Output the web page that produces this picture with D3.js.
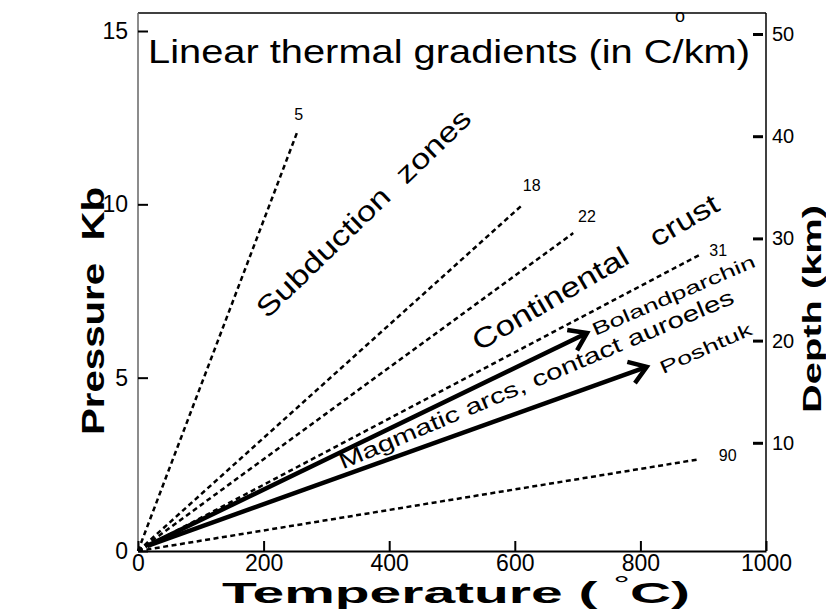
<!DOCTYPE html>
<html>
<head>
<meta charset="utf-8">
<script src="https://cdn.jsdelivr.net/npm/d3@7"></script>
<style>
  body { margin: 0; background: #fff; }
  svg text { font-family: "Liberation Sans", Arial, Helvetica, sans-serif; fill: #000; }
</style>
</head>
<body>
<div id="chart"></div>
<script>
// thermal gradients (degC/km) and where each dashed line stops
const gradients = [5, 18, 22, 31, 90];
const gradEndT = [253, 610, 693, 894, 895];
const gradEndP = [12.06, 9.95, 9.17, 8.54, 2.65];
// where the gradient numbers sit (T, P)
const gradLabelT = [256, 627, 715, 924, 939];
const gradLabelP = [12.58, 10.56, 9.66, 8.68, 2.77];

// P-T paths of the two intrusions
const arrowNames = ["Bolandparchin", "Poshtuk"];
const arrowStart = [15, 0.15];
const arrowEndT = [715, 810];
const arrowEndP = [6.29, 5.31];

// axis ticks
const tempTicks = [0, 200, 400, 600, 800, 1000];
const pressTicks = [0, 5, 10, 15];
const depthTicks = [10, 20, 30, 40, 50];

// field labels: text, T, P, angle
const fieldText = ["Subduction  zones", "Continental   crust", "Magmatic arcs, contact auroeles", "Bolandparchin", "Poshtuk"];
const fieldT = [206, 543, 326, 728, 836];
const fieldP = [6.68, 5.75, 2.35, 6.2, 5.1];
const fieldAngle = [-44, -30.4, -23, -23.4, -24];
const fieldSize = [28, 28, 22, 18, 18];
const fieldLen = [286, 281, 427, 176, 99];

let width = 826;
let height = 612;

let x = d3.scaleLinear().domain([0, 1000]).range([138, 766]);
let y = d3.scaleLinear().domain([0, 15]).range([551, 31]);
let depth = d3.scaleLinear().domain([0, 50]).range([545, 34]);

let svg = d3.select("#chart").append("svg")
  .attr("width", width)
  .attr("height", height);

// frame
svg.append("line").attr("x1", 138).attr("x2", 766).attr("y1", 13).attr("y2", 13)
  .attr("stroke", "#000").attr("stroke-width", 1.5);
svg.append("line").attr("x1", 766).attr("x2", 766).attr("y1", 13).attr("y2", 551)
  .attr("stroke", "#000").attr("stroke-width", 1.5);
svg.append("line").attr("x1", 138).attr("x2", 138).attr("y1", 13).attr("y2", 551)
  .attr("stroke", "#666").attr("stroke-width", 1.5);

// bottom axis, ticks pointing inward
let xAxis = svg.append("g")
  .attr("transform", "translate(0,551)")
  .call(d3.axisBottom(x).tickValues(tempTicks).tickFormat(d3.format("d"))
    .tickSize(-10).tickSizeOuter(0).tickPadding(4));
xAxis.select(".domain").attr("stroke-width", 2);
xAxis.selectAll(".tick line").attr("stroke-width", 2);
xAxis.selectAll("text").style("font-size", "23px");

// left axis
let yAxis = svg.append("g")
  .attr("transform", "translate(138,0)")
  .call(d3.axisLeft(y).tickValues(pressTicks).tickSize(-10).tickSizeOuter(0).tickPadding(10));
yAxis.select(".domain").remove();
yAxis.selectAll(".tick line").attr("stroke-width", 2);
yAxis.selectAll("text").style("font-size", "23px");

// right depth axis: short ticks detached from the frame
let dAxis = svg.append("g")
  .attr("transform", "translate(753,0)")
  .call(d3.axisRight(depth).tickValues(depthTicks).tickSize(10).tickSizeOuter(0).tickPadding(9));
dAxis.select(".domain").remove();
dAxis.selectAll(".tick line").attr("stroke-width", 3);
dAxis.selectAll("text").style("font-size", "20px");

// dashed gradients
svg.append("g").selectAll("line")
  .data(gradients)
  .enter().append("line")
  .attr("x1", x(0)).attr("y1", y(0))
  .attr("x2", (d, i) => x(gradEndT[i]))
  .attr("y2", (d, i) => y(gradEndP[i]))
  .attr("stroke", "#000")
  .attr("stroke-width", 2.5)
  .attr("stroke-dasharray", "5,3.5");

svg.append("g").selectAll("text")
  .data(gradients)
  .enter().append("text")
  .attr("x", (d, i) => x(gradLabelT[i]))
  .attr("y", (d, i) => y(gradLabelP[i]))
  .attr("text-anchor", "middle")
  .attr("dy", "0.35em")
  .style("font-size", "16px")
  .text(d => d);

// solid arrows with open heads
let arrows = svg.append("g");
arrowNames.forEach((name, i) => {
  let x0 = x(arrowStart[0]), y0 = y(arrowStart[1]);
  let x1 = x(arrowEndT[i]), y1 = y(arrowEndP[i]);
  let a = Math.atan2(y1 - y0, x1 - x0);
  let h = 20, spread = 0.6;
  arrows.append("line")
    .attr("x1", x0).attr("y1", y0).attr("x2", x1).attr("y2", y1)
    .attr("stroke", "#000").attr("stroke-width", 4.5);
  arrows.append("path")
    .attr("d", d3.line()([
      [x1 - h * Math.cos(a - spread), y1 - h * Math.sin(a - spread)],
      [x1, y1],
      [x1 - h * Math.cos(a + spread), y1 - h * Math.sin(a + spread)]
    ]))
    .attr("fill", "none")
    .attr("stroke", "#000")
    .attr("stroke-width", 4.5)
    .attr("stroke-linejoin", "miter");
});

// rotated field labels
svg.append("g").selectAll("text")
  .data(fieldText)
  .enter().append("text")
  .attr("transform", (d, i) => "translate(" + x(fieldT[i]) + "," + y(fieldP[i]) + ") rotate(" + fieldAngle[i] + ")")
  .attr("textLength", (d, i) => fieldLen[i])
  .attr("lengthAdjust", "spacingAndGlyphs")
  .style("font-size", (d, i) => fieldSize[i] + "px")
  .style("white-space", "pre")
  .text(d => d);

// title with the degree mark floating above the C
svg.append("text")
  .attr("x", 148).attr("y", 63)
  .attr("textLength", 602)
  .attr("lengthAdjust", "spacingAndGlyphs")
  .style("font-size", "34px")
  .text("Linear thermal gradients (in C/km)");
svg.append("text")
  .attr("x", 680).attr("y", 22)
  .attr("text-anchor", "middle")
  .style("font-size", "18px")
  .text("o");

// axis titles
let xt = svg.append("text")
  .attr("x", 222).attr("y", 603)
  .attr("textLength", 468)
  .attr("lengthAdjust", "spacingAndGlyphs")
  .style("font-size", "30px")
  .style("font-weight", "bold")
  .style("white-space", "pre");
xt.append("tspan").text("Temperature ( ");
xt.append("tspan").attr("dy", -11).style("font-size", "22px").style("font-weight", "normal").text("\u00b0");
xt.append("tspan").attr("dy", 11).text("C)");

svg.append("text")
  .attr("transform", "translate(104,435) rotate(-90)")
  .attr("textLength", 248)
  .attr("lengthAdjust", "spacingAndGlyphs")
  .style("font-size", "32px")
  .style("font-weight", "bold")
  .style("white-space", "pre")
  .text("Pressure  Kb");

svg.append("text")
  .attr("transform", "translate(821,413) rotate(-90)")
  .attr("textLength", 208)
  .attr("lengthAdjust", "spacingAndGlyphs")
  .style("font-size", "26px")
  .style("font-weight", "bold")
  .style("white-space", "pre")
  .text("Depth (km)");
</script>
</body>
</html>
